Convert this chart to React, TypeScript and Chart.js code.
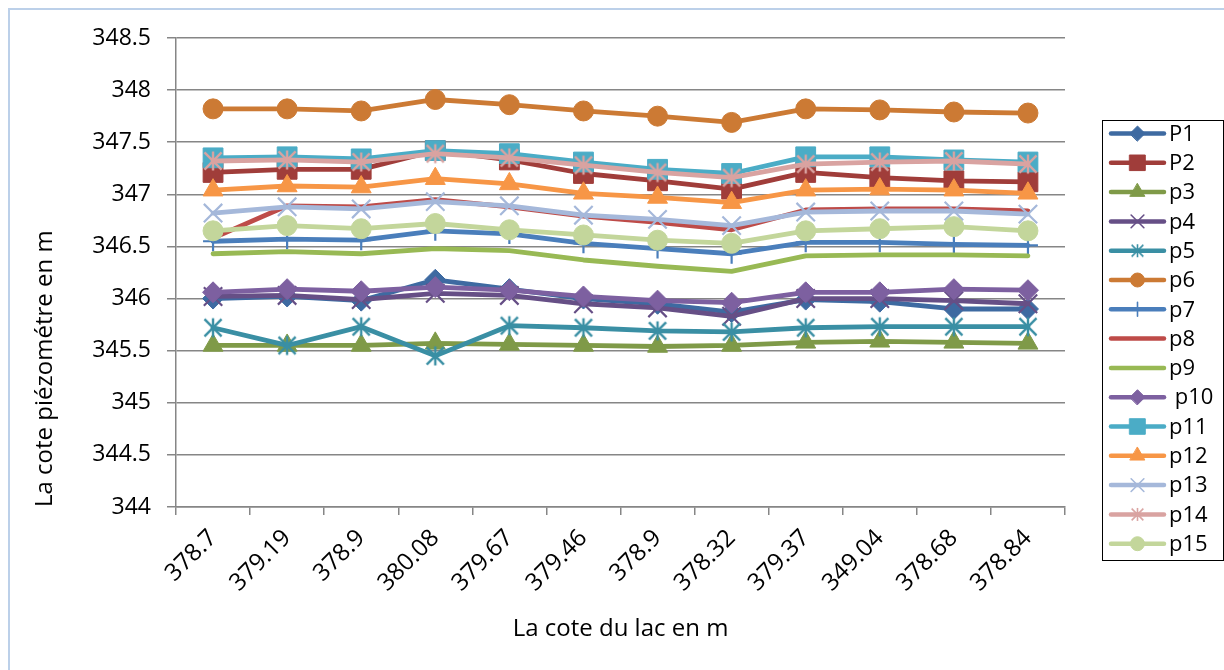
import React, { useEffect, useRef } from 'react';
import { Chart, registerables } from 'chart.js';
import { drawPoint } from 'chart.js/helpers';

Chart.register(...registerables);

const categories = ['378.7', '379.19', '378.9', '380.08', '379.67', '379.46', '378.9', '378.32', '379.37', '349.04', '378.68', '378.84'];

const P1 = [346.0, 346.02, 345.98, 346.18, 346.09, 346.0, 345.95, 345.87, 345.99, 345.97, 345.9, 345.9];
const P2 = [347.21, 347.24, 347.24, 347.42, 347.33, 347.2, 347.13, 347.05, 347.21, 347.16, 347.13, 347.12];
const p3 = [345.55, 345.55, 345.55, 345.57, 345.56, 345.55, 345.54, 345.55, 345.58, 345.59, 345.58, 345.57];
const p4 = [346.02, 346.03, 345.99, 346.05, 346.03, 345.95, 345.91, 345.83, 346.0, 346.0, 345.98, 345.95];
const p5 = [345.72, 345.55, 345.73, 345.45, 345.74, 345.72, 345.69, 345.68, 345.72, 345.73, 345.73, 345.73];
const p6 = [347.82, 347.82, 347.8, 347.91, 347.86, 347.8, 347.75, 347.69, 347.82, 347.81, 347.79, 347.78];
const p7 = [346.55, 346.57, 346.56, 346.65, 346.62, 346.53, 346.48, 346.43, 346.54, 346.54, 346.52, 346.51];
const p8 = [346.58, 346.89, 346.88, 346.95, 346.88, 346.79, 346.73, 346.66, 346.85, 346.86, 346.86, 346.84];
const p9 = [346.43, 346.45, 346.43, 346.48, 346.46, 346.37, 346.31, 346.26, 346.41, 346.42, 346.42, 346.41];
const p10 = [346.06, 346.09, 346.07, 346.11, 346.08, 346.02, 345.98, 345.96, 346.06, 346.06, 346.09, 346.08];
const p11 = [347.35, 347.36, 347.34, 347.42, 347.39, 347.31, 347.24, 347.2, 347.36, 347.36, 347.33, 347.31];
const p12 = [347.04, 347.08, 347.07, 347.15, 347.1, 347.01, 346.97, 346.92, 347.04, 347.05, 347.04, 347.01];
const p13 = [346.82, 346.88, 346.86, 346.93, 346.89, 346.8, 346.76, 346.7, 346.83, 346.84, 346.84, 346.81];
const p14 = [347.32, 347.33, 347.31, 347.39, 347.35, 347.28, 347.21, 347.16, 347.29, 347.31, 347.32, 347.29];
const p15 = [346.65, 346.7, 346.67, 346.72, 346.66, 346.61, 346.56, 346.53, 346.65, 346.67, 346.69, 346.65];

const seriesValues = [P1, P2, p3, p4, p5, p6, p7, p8, p9, p10, p11, p12, p13, p14, p15];
const seriesNames = ['P1', 'P2', 'p3', 'p4', 'p5', 'p6', 'p7', 'p8', 'p9', ' p10', 'p11', 'p12', 'p13', 'p14', 'p15'];
const seriesColors = ['#3E6AA1', '#A03D3A', '#7F9A48', '#664F86', '#3A8FA4', '#CC7A34', '#4A7EBB', '#BE4B48', '#98B954', '#7D60A0', '#4BACC6', '#F79646', '#A5B8DA', '#D9A3A1', '#C3D69B'];
const seriesMarkers = ['rectRot', 'rect', 'triangle', 'crossRot', 'asterisk', 'circle', 'cross', 'none', 'none', 'rectRot', 'rect', 'triangle', 'crossRot', 'asterisk', 'circle'];

const yTicks = { min: 344, max: 348.5, step: 0.5 };
const xTitle = 'La cote du lac en m';
const yTitle = 'La cote piézométre en m';

const FONT = "'Open Sans', 'Liberation Sans', sans-serif";
const GRID = '#868686';

const markerRadius: Record<string, number> = { rectRot: 10.5, rect: 14, triangle: 11.5, crossRot: 13, asterisk: 9.5, circle: 10, cross: 10, none: 0 };
const legendRadius: Record<string, number> = { rectRot: 7.5, rect: 11, triangle: 8.5, crossRot: 9, asterisk: 6.5, circle: 7, cross: 7, none: 0 };

function makeAsterisk(color: string, r: number, lw: number): HTMLCanvasElement {
  const c = document.createElement('canvas');
  const s = Math.ceil(2 * r + lw + 2);
  c.width = s;
  c.height = s;
  const g = c.getContext('2d')!;
  g.strokeStyle = color;
  g.lineWidth = lw;
  const m = s / 2;
  g.beginPath();
  g.moveTo(m, m - r);
  g.lineTo(m, m + r);
  const d = r * 0.9;
  g.moveTo(m - d, m - d);
  g.lineTo(m + d, m + d);
  g.moveTo(m + d, m - d);
  g.lineTo(m - d, m + d);
  g.stroke();
  return c;
}

export default function App() {
  const ref = useRef<HTMLCanvasElement | null>(null);

  useEffect(() => {
    const canvas = ref.current;
    if (!canvas) return;

    const chartStyles = seriesMarkers.map((m, i) => (m === 'asterisk' ? makeAsterisk(seriesColors[i], 9.5, 2.4) : m));
    const legendStyles = seriesMarkers.map((m, i) => (m === 'asterisk' ? makeAsterisk(seriesColors[i], 6.5, 1.6) : m));

    const datasets = seriesValues.map((vals, i) => {
      const m = seriesMarkers[i];
      const thin = m === 'crossRot' || m === 'cross' || m === 'asterisk';
      return {
        label: seriesNames[i].trim(),
        data: vals,
        borderColor: seriesColors[i],
        backgroundColor: seriesColors[i],
        borderWidth: 4.8,
        borderJoinStyle: 'round' as const,
        borderCapStyle: 'round' as const,
        pointStyle: m === 'none' ? false : (chartStyles[i] as any),
        pointRadius: m === 'none' ? 0 : markerRadius[m],
        pointBorderWidth: thin ? 2.2 : 1,
        pointBorderColor: seriesColors[i],
        pointBackgroundColor: seriesColors[i],
        tension: 0,
        order: 14 - i,
      };
    });

    const decor = {
      id: 'decor',
      afterDraw(chart: any) {
        const ctx = chart.ctx as CanvasRenderingContext2D;
        ctx.save();
        // outer frame
        ctx.strokeStyle = '#BCD0E9';
        ctx.lineWidth = 2;
        ctx.strokeRect(9, 9, 1400, 1000);
        // legend box
        const bx = 1102.5, by = 120.5, bw = 121, bh = 440;
        ctx.strokeStyle = '#000000';
        ctx.lineWidth = 1;
        ctx.strokeRect(bx, by, bw, bh);
        const y0 = 133.5, step = 29.3;
        seriesNames.forEach((name, i) => {
          const y = y0 + i * step;
          const col = seriesColors[i];
          ctx.strokeStyle = col;
          ctx.fillStyle = col;
          ctx.lineWidth = 4.5;
          ctx.lineCap = 'round';
          ctx.beginPath();
          ctx.moveTo(1111, y);
          ctx.lineTo(1164, y);
          ctx.stroke();
          const m = seriesMarkers[i];
          if (m !== 'none') {
            const thin = m === 'crossRot' || m === 'cross' || m === 'asterisk';
            ctx.lineWidth = thin ? 1.6 : 1;
            drawPoint(ctx, { pointStyle: legendStyles[i] as any, rotation: 0, radius: legendRadius[m], borderWidth: thin ? 1.6 : 1 } as any, 1137.5, y);
          }
          ctx.fillStyle = '#000000';
          ctx.font = `22px ${FONT}`;
          ctx.textAlign = 'left';
          ctx.textBaseline = 'middle';
          ctx.fillText(name, 1169, y + 1);
        });
        ctx.restore();
      },
    };

    const chart = new Chart(canvas, {
      type: 'line',
      data: { labels: categories, datasets: datasets as any },
      options: {
        responsive: false,
        animation: false,
        devicePixelRatio: 1,
        layout: { padding: { left: 0, top: 38, right: 159, bottom: 0 } },
        plugins: {
          legend: { display: false },
          tooltip: { enabled: false },
          title: { display: false },
        },
        scales: {
          x: {
            type: 'category',
            offset: true,
            grid: { display: true, drawOnChartArea: false, drawTicks: true, tickLength: 8, color: GRID, lineWidth: 1.5, offset: true },
            border: { display: true, color: GRID, width: 1.5 },
            ticks: { autoSkip: false, maxRotation: 45, minRotation: 45, padding: 9, color: '#000000', font: { family: FONT, size: 24 } },
            title: { display: true, text: xTitle, color: '#000000', font: { family: FONT, size: 24 }, padding: { top: 0, bottom: 26 } },
            afterFit: (s: any) => {
              s.height = 163;
            },
          },
          y: {
            type: 'linear',
            min: yTicks.min,
            max: yTicks.max,
            grid: { display: true, drawOnChartArea: true, drawTicks: true, tickLength: 9, color: GRID, lineWidth: 1.5 },
            border: { display: true, color: GRID, width: 1.5 },
            ticks: {
              stepSize: yTicks.step,
              padding: 16,
              color: '#000000',
              font: { family: FONT, size: 23 },
              callback: (v: any) => String(Number(v)),
            },
            title: { display: true, text: yTitle, align: 'start', color: '#000000', font: { family: FONT, size: 24 }, padding: { top: 31, bottom: 0 } },
            afterFit: (s: any) => {
              s.width = 176;
            },
          },
        },
      },
      plugins: [decor],
    });

    return () => chart.destroy();
  }, []);

  return (
    <div style={{ position: 'fixed', left: 0, top: 0, width: 1224, height: 670, background: '#ffffff' }}>
      <canvas ref={ref} width={1224} height={670} style={{ display: 'block', width: 1224, height: 670 }} />
    </div>
  );
}
